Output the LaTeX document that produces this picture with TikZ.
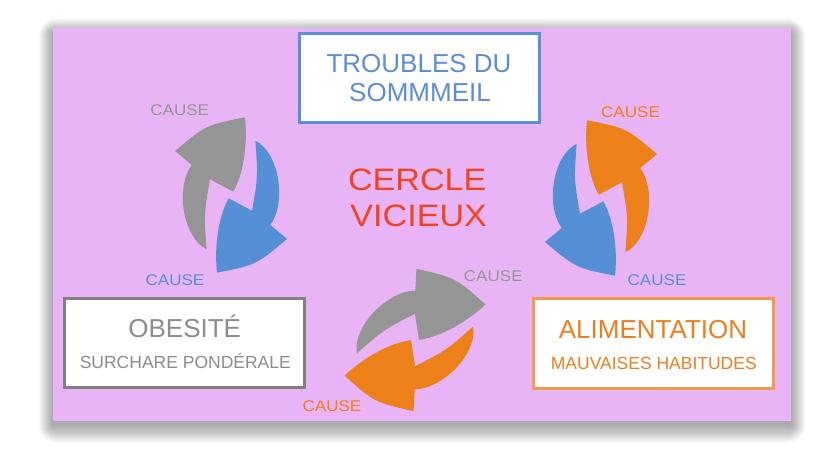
\documentclass[tikz,border=0pt]{standalone}
\usepackage{fontspec}
\setmainfont{Liberation Sans}
\usepackage{graphicx}
\definecolor{panel}{HTML}{E9B4F6}
\definecolor{boxblue}{HTML}{5A8FD8}
\definecolor{txtblue}{HTML}{5B8ED6}
\definecolor{boxgray}{HTML}{808080}
\definecolor{txtgray}{HTML}{8C8C8C}
\definecolor{boxorange}{HTML}{F5984F}
\definecolor{txtorange}{HTML}{EE7E1D}
\definecolor{txtred}{HTML}{F2441C}
\definecolor{arrgray}{HTML}{959595}
\definecolor{arrblue}{HTML}{5590D6}
\definecolor{arrorange}{HTML}{EC8019}
\tikzset{
  cyc/.pic={
    \fill[#1] (-56,-44) .. controls (-25,-70) .. (14,-77.7)
      .. controls (17,-50) and (12,-20) .. (2.3,-3.3)
      -- (-21,-15.7)
      .. controls (-27,19) .. (-24.3,54.3)
      .. controls (-48,43) and (-56,-7) .. (-39.3,-30)
      -- cycle;
  },
  infobox/.style={draw=#1, line width=3pt, fill=white, inner sep=0pt,
    minimum width=240pt, minimum height=89pt},
  big/.style={anchor=base, inner sep=0pt, font=\fontsize{26}{30}\selectfont},
  small/.style={anchor=base, inner sep=0pt, font=\fontsize{17.5}{20}\selectfont},
  cause/.style={anchor=base, inner sep=0pt, font=\fontsize{15.5}{18}\selectfont},
}
\newcommand{\wideText}[2]{\scalebox{#1}[1]{#2}}
\begin{document}
\begin{tikzpicture}[x=1pt,y=-1pt]
\useasboundingbox (0,0) rectangle (840,450);
\fill[white] (0,0) rectangle (840,450);
% soft shadow of the panel
\foreach \i in {1,...,18}
  \fill[black,opacity=0.02,rounded corners=\i pt] (53-0.8*\i,33-0.8*\i) rectangle (791+0.8*\i,425+\i);
\node[fill=panel, inner sep=0pt, minimum width=738pt, minimum height=393pt] (panel) at (422,224.5) {};

% boxes
\node[infobox=boxblue] (sleep) at (419,78) {};
\node[infobox=boxgray] (obes) at (184.5,343) {};
\node[infobox=boxorange, minimum height=90pt] (alim) at (653.5,343.5) {};

\node[big, text=txtblue] (sleepA) at (419,72.3) {TROUBLES DU};
\node[big, text=txtblue] (sleepB) at (420,101.5) {SOMMMEIL};
\node[big, text=txtgray] (obesA) at (184.7,337.3) {OBESITÉ};
\node[small, text=txtgray] (obesB) at (185.3,368.3) {SURCHARE PONDÉRALE};
\node[big, text=txtorange] (alimA) at (653,338.3) {ALIMENTATION};
\node[small, text=txtorange] (alimB) at (653.8,369.3) {MAUVAISES HABITUDES};

% centre title
\node[anchor=base, inner sep=0pt, text=txtred, font=\fontsize{31}{36}\selectfont] (titleA) at (417.2,190.7) {\wideText{1.1}{CERCLE}};
\node[anchor=base, inner sep=0pt, text=txtred, font=\fontsize{31}{36}\selectfont] (titleB) at (418.7,226) {\wideText{1.1}{VICIEUX}};

% circular arrows
\pic at (231,195) {cyc=arrgray};
\pic[rotate=180] at (231,195) {cyc=arrblue};
\pic[xscale=-1] at (601,198) {cyc=arrorange};
\pic[xscale=-1, rotate=180] at (601,198) {cyc=arrblue};
\pic[rotate=-53] at (415,340) {cyc=arrgray};
\pic[rotate=127] at (415,340) {cyc=arrorange};

% labels
\node[cause, text=arrgray] (c1) at (179.7,115.7) {\wideText{1.1}{CAUSE}};
\node[cause, text=arrblue] (c2) at (175,285) {\wideText{1.1}{CAUSE}};
\node[cause, text=arrorange] (c3) at (630.5,117) {\wideText{1.1}{CAUSE}};
\node[cause, text=arrblue] (c4) at (657,285) {\wideText{1.1}{CAUSE}};
\node[cause, text=arrgray] (c5) at (493.3,281.5) {\wideText{1.1}{CAUSE}};
\node[cause, text=arrorange] (c6) at (332,411.5) {\wideText{1.1}{CAUSE}};
\end{tikzpicture}
\end{document}
